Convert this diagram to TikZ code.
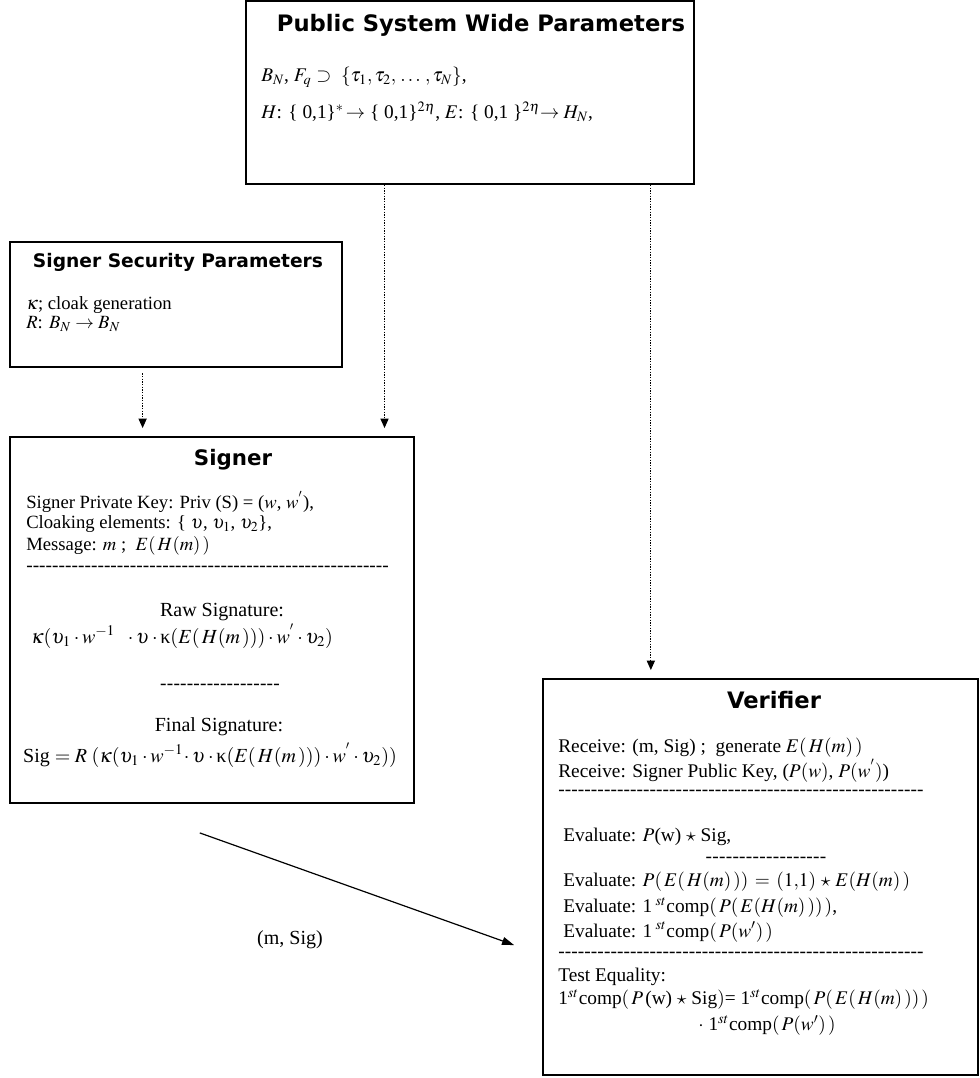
\documentclass[tikz,border=0pt]{standalone}
\usepackage{mathptmx}
\usepackage[no-math]{fontspec}
\setmainfont{Liberation Serif}
\newfontfamily\headfont{DejaVu Sans}
\usetikzlibrary{arrows.meta,fit,calc}
\newcommand\dashrow[1]{\hbox to #1{\xleaders\hbox{-}\hfill}}

\begin{document}
\begin{tikzpicture}
[x=0.75pt,y=-0.75pt,
  box/.style={draw,line width=1.4pt,inner sep=0pt},
  head/.style={inner sep=0pt,font=\headfont\bfseries\fontsize{#1}{#1}\selectfont},
  head/.default=16,
  txt/.style={anchor=west,inner sep=0pt,font=\fontsize{14.5}{15}\selectfont},
  ctr/.style={inner sep=0pt,font=\fontsize{14.5}{15}\selectfont},
  big/.style={font=\fontsize{15}{16}\selectfont},
  small/.style={font=\fontsize{14}{15}\selectfont},
  dotarrow/.style={line width=0.9pt,dash pattern=on 1pt off 1pt,-{Triangle[length=7pt,width=6pt]}},
  msgarrow/.style={line width=0.9pt,-{Triangle[length=9pt,width=6pt]}}]
\useasboundingbox (0,0) rectangle (980,1078);

% public parameters
\node[box,fit={(246,1) (694,184)}] (pub) {};
\node[head=17] (pubt) at (481,25) {Public System Wide Parameters};
\node[txt] (pub1) at (261,77) {$B_N$, $F_q$ $\supset$\ \ $\{\tau_1, \tau_2,\,\ldots\,, \tau_N\}$,};
\node[txt] (pub2) at (261,112) {$H$: \{ 0,1\}$^*\!\rightarrow$\ \{ 0,1\}$^{2\eta}$, $E$: \{ 0,1 \}$^{2\eta}\!\!\rightarrow H_N$,};

% signer security parameters
\node[box,fit={(10,242) (342,367)}] (ssp) {};
\node[head=14] (sspt) at (178,262) {Signer Security Parameters};
\node[txt,small] (ssp1) at (26,305) {$\kappa$; cloak generation};
\node[txt,small] (ssp2) at (26,324) {$R$: $B_N\rightarrow B_N$};

% signer
\node[box,fit={(10,437) (414,803)}] (sig) {};
\node[head] (sigt) at (233,460) {Signer};
\node[txt,small] (sig1) at (26,502) {Signer Private Key: Priv (S) = ($w$, $w^{'}$),};
\node[txt,small] (sig2) at (26,524) {Cloaking elements: \{ $\upsilon$, $\upsilon_1$, $\upsilon_2$\},};
\node[txt,small] (sig3) at (26,546) {Message: $m$ ;\ \ $E(\,H(m)\,)$};
\node[txt] (sig4) at (26,569) {\dashrow{272pt}};
\node[ctr,big] (sig5) at (222,612) {Raw Signature:};
\node[ctr,big] (sig6) at (182,636) {$\kappa(\upsilon_1\cdot w^{-1}\ \ \cdot\upsilon\cdot\mbox{κ}(E(\,H(m\,)))\cdot w^{'}\cdot\upsilon_2)$};
\node[ctr] (sig7) at (220,687) {\dashrow{90pt}};
\node[ctr,big] (sig8) at (219,727) {Final Signature:};
\node[ctr,big] (sig9) at (210,755) {Sig $= R\;(\kappa(\upsilon_1\cdot w^{-1}\!\cdot\upsilon\cdot\mbox{κ}(E(\,H(m\,)))\cdot w^{'}\cdot\upsilon_2))$};

% verifier
\node[box,fit={(543,679) (978,1075)}] (ver) {};
\node[head=17] (vert) at (774,700) {Verifier};
\node[txt] (ver1) at (558,748) {Receive: (m, Sig) ;\ \ generate $E(\,H(m)\,)$};
\node[txt] (ver2) at (558,771) {Receive: Signer Public Key, ($P(w)$, $P(w^{'})$)};
\node[txt] (ver3) at (558,793) {\dashrow{274pt}};
\node[txt] (ver4) at (563,837) {Evaluate: $P$(w) $\star$ Sig,};
\node[ctr] (ver5) at (766,860) {\dashrow{91pt}};
\node[txt] (ver6) at (563,882) {Evaluate: $P(\,E(\,H(m)\,))\,=\,(1{,}1)\,\star\,E(H(m)\,)$};
\node[txt] (ver7) at (563,908) {Evaluate: 1\,$^{st}$comp$(\,P(\,E(H(m)\,))\,)$,};
\node[txt] (ver8) at (563,932) {Evaluate: 1\,$^{st}$comp$(\,P(w')\,)$};
\node[txt] (ver9) at (558,955) {\dashrow{274pt}};
\node[txt] (ver10) at (558,977) {Test Equality:};
\node[txt] (ver11) at (558,1000) {1$^{st}$comp$(\,P\,$(w) $\star$ Sig$)$= 1$^{st}$comp$(\,P(\,E(\,H(m)\,))\,)$};
\node[ctr] (ver12) at (767,1025) {$\cdot$ 1$^{st}$comp$(\,P(w')\,)$};

% connectors
\coordinate (pa) at ($(pub.south west)!0.31!(pub.south east)$);
\coordinate (pb) at ($(pub.south west)!0.902!(pub.south east)$);
\coordinate (sa) at ($(ssp.south west)!0.4!(ssp.south east)$);
\draw[dotarrow,shorten >=6pt] (pa) -- (pa |- sig.north);
\draw[dotarrow,shorten >=6pt] (pb) -- (pb |- ver.north);
\draw[dotarrow,shorten <=4pt,shorten >=6pt] (sa) -- (sa |- sig.north);
\coordinate (ma) at ($(sig.south west)!0.47!(sig.south east)+(0,29)$);
\coordinate (mb) at ($(ver.north west)!0.671!(ver.south west)+(-28,0)$);
\draw[msgarrow] (ma) -- (mb);
\node[ctr,big] (msg) at (290,940) {(m, Sig)};
\end{tikzpicture}
\end{document}
